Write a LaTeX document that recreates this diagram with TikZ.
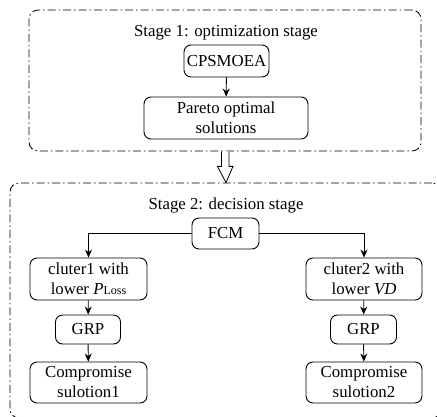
\documentclass[tikz,border=0pt]{standalone}
\usepackage{fontspec}
\setmainfont{Liberation Serif}
\usetikzlibrary{calc,arrows.meta}
\begin{document}
\begin{tikzpicture}[x=1pt,y=-1pt,
  stagebox/.style={draw, line width=0.8pt, rounded corners=9pt,
    dash pattern=on 8pt off 3pt on 1.5pt off 3pt},
  procbox/.style={draw, line width=0.9pt, rounded corners=7pt, align=center,
    inner sep=0pt, font=\fontsize{16.8}{20}\selectfont},
  lbl/.style={inner sep=0pt, font=\fontsize{16.8}{20}\selectfont},
  conn/.style={draw, line width=0.9pt, -{Stealth[length=8pt,width=7pt]}}]
\useasboundingbox (0,0) rectangle (437,417);
% stage boxes
\node[stagebox, minimum width=392pt, minimum height=141pt] (s1) at (225,80.5) {};
\node[stagebox, minimum width=431pt, minimum height=235pt] (s2) at (225.5,300.5) {};
% stage 1
\node[lbl] (t1) at (226,33) {Stage 1: optimization stage};
\node[procbox, minimum width=85pt, minimum height=32pt] (cps) at (226.5,61) {CPSMOEA};
\node[procbox, minimum width=164pt, minimum height=42pt] (par) at (226,118) {Pareto optimal\\solutions};
\draw[conn] (cps) -- (par);
% hollow arrow between stages
\draw[line width=0.8pt, fill=white]
  ($(s1.south)+(-3.5,0)$) -- ++(0,15) -- ++(-4,0) -- ($(s2.north)+(0.5,0)$)
  -- ($(s1.south)+(8,15)$) -- ++(-4,0) -- ++(0,-15);
% stage 2
\node[lbl] (t2) at (226,205) {Stage 2: decision stage};
\node[procbox, minimum width=67pt, minimum height=31pt] (fcm) at (225.5,233.5) {FCM};
\node[procbox, minimum width=117pt, minimum height=42pt] (c1) at (88.5,279)
  {cluter1 with\\lower \textit{P}{\fontsize{12}{14}\selectfont Loss}};
\node[procbox, minimum width=116pt, minimum height=42pt] (c2) at (364,279)
  {cluter2 with\\lower \textit{VD}};
\node[procbox, minimum width=65pt, minimum height=29pt] (g1) at (88,329.5) {GRP};
\node[procbox, minimum width=66pt, minimum height=29pt] (g2) at (363.5,329.5) {GRP};
\node[procbox, minimum width=117pt, minimum height=41pt] (r1) at (88.5,382.5) {Compromise\\sulotion1};
\node[procbox, minimum width=116pt, minimum height=41pt] (r2) at (364,382.5) {Compromise\\sulotion2};
\draw[conn] (fcm.west) -| (c1.north);
\draw[conn] (fcm.east) -| (c2.north);
\draw[conn] (c1) -- (g1);
\draw[conn] (c2) -- (g2);
\draw[conn] (g1) -- (r1);
\draw[conn] (g2) -- (r2);
\end{tikzpicture}
\end{document}
